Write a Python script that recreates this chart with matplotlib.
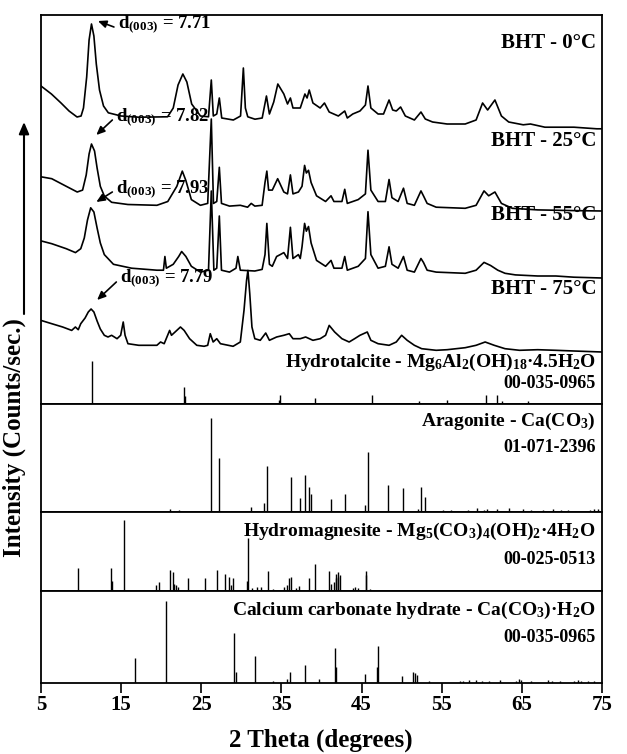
import numpy as np
import matplotlib.pyplot as plt

plt.rcParams['font.family'] = ['Liberation Serif', 'DejaVu Serif']
plt.rcParams['font.weight'] = 'bold'
plt.rcParams['mathtext.fontset'] = 'custom'
plt.rcParams['mathtext.rm'] = 'Liberation Serif:bold'
plt.rcParams['mathtext.it'] = 'Liberation Serif:bold'
plt.rcParams['mathtext.bf'] = 'Liberation Serif:bold'

tt_0 = [5.0, 6.3, 7.5, 8.5, 9.5, 10.0, 10.3, 10.7, 11.0, 11.3, 11.6, 11.9, 12.3, 12.8, 13.4,
        15.0, 17.2, 20.8, 21.5, 22.1, 22.7, 23.2, 23.8, 24.9, 25.9, 26.25, 26.5, 26.93, 27.25,
        27.55, 29.0, 29.9, 30.25, 30.5, 30.8, 31.7, 32.6, 33.13, 33.5, 34.04, 34.55, 35.3, 35.76,
        36.12, 36.44, 37.35, 37.93, 38.2, 38.47, 38.93, 39.83, 40.37, 40.96, 42.1, 42.9, 43.22,
        43.9, 44.8, 45.48, 45.8, 46.16, 47.06, 47.74, 48.43, 48.88, 49.33, 49.87, 50.46, 51.59,
        52.41, 52.95, 53.86, 55.67, 57.93, 59.29, 60.1, 60.73, 61.64, 62.45, 63.36, 65.17, 66.07,
        67.88, 71.5, 74.35, 75.0]
int_0 = [44.0, 36.0, 27.0, 19.0, 13.0, 14.0, 22, 53, 90, 106, 94, 66, 40, 24, 17.2,
         14, 12.8, 13.2, 22, 45, 56, 48, 26, 14, 13.2, 50, 14, 16, 32,
         12, 10, 14, 62, 22, 13.2, 10.8, 12, 34, 16, 28, 46, 36, 26,
         32, 22, 22, 36, 32, 40, 27, 22, 27, 18, 14, 19, 12,
         16, 19, 25, 44, 22, 16, 16, 30, 20, 19, 23, 14, 10,
         18, 11, 8, 6, 6, 10, 27, 20, 30, 14, 8, 5.2, 6,
         2.8, 2.8, 1.2, 1.2]

tt_25 = [5.0, 6.34, 8.15, 9.52, 10.19, 10.64, 11.0, 11.3, 11.68, 12.0, 12.4, 12.9, 13.81, 15.84,
         19.46, 20.82, 21.95, 22.63, 23.08, 23.76, 24.89, 25.8, 26.25, 26.52, 26.93, 27.25, 27.52,
         28.52, 29.87, 30.78, 31.23, 31.68, 32.59, 32.95, 33.18, 33.4, 33.86, 34.53, 35.3, 35.76,
         36.12, 36.44, 37.12, 37.57, 37.89, 38.11, 38.38, 38.7, 39.38, 40.51, 41.19, 41.55, 42.55,
         42.9, 43.22, 44.58, 45.48, 45.8, 46.16, 47.06, 47.97, 48.43, 48.79, 49.56, 50.23, 50.69,
         51.59, 52.41, 52.72, 53.18, 54.31, 57.93, 59.29, 60.28, 60.86, 61.64, 62.45, 63.81, 66.98,
         71.5, 75.0]
int_25 = [34.2, 32.3, 24.7, 19, 20.9, 36, 57, 67, 60, 43, 24.7, 15, 8.7, 6.5,
          5.7, 9.5, 24.7, 39.9, 30.4, 11.4, 5.7, 7.6, 92.0, 7.6, 9.5, 43.7, 7.6,
          4.9, 5.7, 3.8, 7.6, 4.9, 5.7, 28.5, 39.9, 20.9, 20.9, 32.3, 19, 17.1,
          36.1, 17.1, 19, 24.7, 45.6, 38, 40.7, 28.5, 15.2, 9.5, 15.2, 9.5, 9.5,
          21.7, 7.6, 11.4, 17.1, 60.8, 20.9, 9.5, 9.5, 31.5, 13.3, 9.5, 22.8, 7.6,
          5.7, 20.1, 15.2, 7.6, 3.8, 2.7, 5.7, 20.1, 15.2, 19, 7.6, 2.7, 1.1,
          0.4, 0]

tt_55 = [5.0, 6.34, 8.15, 9.3, 9.96, 10.4, 10.8, 11.2, 11.6, 12.0, 12.4, 12.9, 14.04, 16.3, 19.46,
         20.28, 20.46, 20.64, 21.5, 22.18, 22.55, 23.08, 23.76, 24.89, 25.9, 26.25, 26.57, 26.93,
         27.25, 27.52, 28.52, 29.33, 29.56, 29.87, 31.68, 32.59, 32.95, 33.18, 33.5, 33.86, 34.4,
         34.85, 35.3, 35.76, 36.12, 36.44, 37.12, 37.35, 37.57, 37.89, 38.11, 38.38, 38.7, 39.38,
         40.51, 41.19, 41.55, 42.55, 42.9, 43.22, 44.58, 45.48, 45.8, 46.16, 47.06, 47.97, 48.43,
         48.79, 49.56, 50.23, 50.69, 51.59, 52.41, 52.72, 53.18, 54.31, 57.93, 59.29, 60.28, 61.1,
         62.0, 62.9, 64.2, 66.98, 69.24, 71.5, 75.0]
int_55 = [37.1, 34.3, 29.3, 25.4, 29.3, 40, 58, 70.2, 66, 50, 35.1, 23.4, 13.7, 9.8, 7.8,
          7.8, 21.5, 9.8, 13.7, 21.5, 26.5, 21.5, 11.7, 5.9, 7.8, 87.0, 7.8, 9.8,
          62.0, 7.8, 5.9, 9.8, 21.5, 7.8, 7, 8.6, 23.4, 54.6, 13.7, 11.7, 21.5,
          23.4, 25.4, 19.5, 50.7, 19.5, 23.4, 19.5, 31.2, 54.6, 46.8, 51.5, 35.1, 17.6,
          11.7, 17.6, 9.8, 9.8, 21.5, 7.8, 11.7, 19.5, 66.3, 23.4, 9.8, 11.7, 31.2,
          13.7, 9.8, 21.5, 7.8, 5.9, 19.5, 15.6, 7.8, 5.9, 4.7, 7.8, 15.6, 12.5,
          7.8, 4.7, 3.1, 2, 2, 0.8, 0]

tt_75 = [5.0, 6.34, 7.7, 8.83, 9.29, 9.65, 9.96, 10.5, 10.9, 11.25, 11.6, 12.0, 12.4, 12.9,
         13.36, 13.81, 14.49, 14.94, 15.26, 15.49, 15.85, 17.2, 19.46, 19.92, 20.37, 21.05,
         21.28, 21.73, 22.4, 22.86, 23.54, 24.44, 25.35, 25.8, 26.12, 26.48, 26.93, 27.39, 28.97,
         29.87, 30.33, 30.65, 30.82, 31.05, 31.32, 31.68, 32.36, 33.04, 33.5, 34.4, 35.3, 35.98,
         36.44, 37.35, 38.02, 38.93, 39.83, 40.51, 40.96, 41.64, 42.55, 43.45, 44.13, 44.8, 45.71,
         46.16, 47.06, 48.43, 49.33, 50.0, 50.69, 51.59, 52.5, 54.31, 55.67, 57.93, 59.29, 60.42,
         61.55, 62.9, 64.71, 66.98, 69.24, 71.5, 75.0]
int_75 = [31.6, 28.3, 25, 21.6, 25, 22.3, 28.3, 34, 40, 43, 40, 31, 23, 16.7,
          15, 16.7, 13.3, 16.7, 30, 16.7, 8.3, 6.7, 6.7, 10, 8.3, 21.6,
          16.7, 20, 25, 21.6, 13.3, 6.7, 5.7, 6.7, 18.3, 10, 13.3, 8.3, 5.7,
          10, 41.6, 71.6, 81.6, 58.3, 25, 13.3, 11.7, 19, 11.7, 15, 16.7, 18.3,
          13.3, 13.3, 15, 11.7, 13.3, 16.7, 26.6, 20, 13.3, 10, 13.3, 16.7, 20,
          11.7, 8.3, 6.7, 10, 16.7, 11.7, 6.7, 3.3, 1.7, 2.3, 4.3, 6.7, 10,
          6.7, 3.3, 1.7, 2.3, 1.7, 1, 0]

samples = ['BHT - 0°C', 'BHT - 25°C', 'BHT - 55°C', 'BHT - 75°C']
d_labels = ['7.71', '7.82', '7.93', '7.79']

# --- reference cards (2 theta, relative intensity) ---
ht_tt = [11.35, 22.85, 22.95, 34.75, 34.85, 39.25, 46.35, 52.2, 55.6, 60.55, 61.9, 62.55, 65.75]
ht_int = [100, 40, 18, 10, 22, 15, 21, 8, 9, 21, 21, 6, 8]

ar_tt = [21.05, 22.2, 26.17, 27.2, 31.15, 32.8, 33.15, 36.15, 37.3, 37.92, 38.4, 38.65, 41.15,
         42.87, 45.45, 45.8, 48.35, 50.2, 52.1, 52.45, 52.95, 55.1, 56.2, 58.3, 59.35, 60.3,
         60.7, 61.9, 63.4, 65.1, 66.2, 67.6, 68.9, 69.9, 70.8, 73.5, 74.0, 74.5]
ar_int = [3, 2, 100, 57, 5, 10, 49, 37, 15, 39, 27, 19, 14, 19, 7, 64, 29, 26, 3, 27, 16, 2, 2,
          2, 4, 2, 3, 3, 4, 3, 2, 2, 3, 2, 2, 2, 3, 3]

hm_tt = [9.65, 13.72, 13.81, 15.3, 19.37, 19.7, 21.13, 21.41, 21.65, 21.85, 22.1, 23.31, 25.48,
         26.93, 27.93, 28.52, 28.77, 28.97, 30.69, 30.78, 31.3, 31.95, 32.4, 33.36, 33.95, 35.3,
         35.7, 35.9, 36.21, 36.8, 37.25, 38.38, 39.24, 40.96, 41.2, 41.5, 41.75, 41.87, 42.0,
         42.1, 42.3, 43.9, 44.2, 44.6, 45.5, 45.6, 46.05]
hm_int = [33, 33, 14, 100, 8, 12, 30, 26, 10, 9, 6, 18, 18, 30, 24, 20, 8, 18, 14, 75, 4, 6, 5,
          28, 3, 5, 8, 18, 20, 4, 7, 18, 38, 28, 10, 12, 18, 24, 20, 27, 22, 4, 5, 4, 28, 22, 3]

cc_tt = [16.75, 20.56, 29.06, 29.28, 31.68, 33.94, 35.66, 36.07, 37.93, 39.69, 41.68, 41.86,
         45.44, 46.89, 47.07, 50.1, 51.41, 51.68, 51.95, 53.4, 57.25, 57.7, 58.4, 59.3, 60.0,
         60.9, 62.3, 64.3, 64.7, 64.95, 66.1, 68.3, 68.8, 69.7, 71.5, 72.0, 72.4, 73.3, 74.0]
cc_int = [30, 100, 61, 14, 33, 2, 5, 14, 22, 5, 43, 19, 11, 20, 45, 9, 14, 12, 10, 2, 2, 3, 4,
          4, 3, 3, 4, 3, 5, 4, 2, 4, 3, 2, 3, 4, 3, 2, 2]

cards = [
    ('Hydrotalcite - Mg$_6$Al$_2$(OH)$_{18}$·4.5H$_2$O', '00-035-0965'),
    ('Aragonite - Ca(CO$_3$)', '01-071-2396'),
    ('Hydromagnesite - Mg$_5$(CO$_3$)$_4$(OH)$_2$·4H$_2$O', '00-025-0513'),
    ('Calcium carbonate hydrate - Ca(CO$_3$)·H$_2$O', '00-035-0965'),
]

W, H = 627, 754
fig = plt.figure(figsize=(W / 100, H / 100), dpi=100)


def box(top, bottom):
    return [41 / W, 1 - bottom / H, 561 / W, (bottom - top) / H]


ax0 = fig.add_axes(box(15, 404))
ax1 = fig.add_axes(box(404, 512))
ax2 = fig.add_axes(box(512, 591))
ax3 = fig.add_axes(box(591, 683))
axes = [ax0, ax1, ax2, ax3]

for ax in axes:
    ax.set_xlim(5, 75)
    for s in ax.spines.values():
        s.set_linewidth(1.3)
    ax.set_yticks([])
    ax.tick_params(axis='x', bottom=False, labelbottom=False)

# top panel, y in screen-like units above the hydrotalcite baseline
ax0.set_ylim(0, 389)
offsets = [274, 193, 126, 52]
patterns = [(tt_0, int_0), (tt_25, int_25), (tt_55, int_55), (tt_75, int_75)]
for (tt, ii), off in zip(patterns, offsets):
    ax0.plot(tt, np.array(ii) + off, color='k', lw=1.2)

label_y = [361, 263, 189, 115]
for name, y in zip(samples, label_y):
    ax0.text(74.3, y, name, ha='right', va='center', fontsize=15)

# d(003) annotations: label position and arrow (tail -> head)
d_pos = [(14.6, 380), (14.4, 287), (14.3, 215), (14.9, 126)]
d_arrow = [((14.1, 377), (12.1, 383)), ((13.9, 284), (11.9, 269)),
           ((13.9, 212), (11.9, 202)), ((14.4, 122), (12.0, 104))]
for lab, (x, y), (tail, head) in zip(d_labels, d_pos, d_arrow):
    ax0.text(x, y, 'd$_{(003)}$ = ' + lab, ha='left', va='center', fontsize=13.5)
    ax0.annotate('', xy=head, xytext=tail, annotation_clip=False,
                 arrowprops=dict(arrowstyle='-|>,head_length=0.5,head_width=0.22',
                                 color='k', lw=1.2, shrinkA=0, shrinkB=0))

ax0.vlines(ht_tt, 0, np.array(ht_int) * 0.43, color='k', lw=1.0)
ax0.text(0.989, 42 / 389, cards[0][0], transform=ax0.transAxes, ha='right', va='center',
         fontsize=14)
ax0.text(0.989, 21 / 389, cards[0][1], transform=ax0.transAxes, ha='right', va='center',
         fontsize=13)

sticks = [(ax1, ar_tt, ar_int, 115, 0.843, 0.593),
          (ax2, hm_tt, hm_int, 111, 0.76, 0.405),
          (ax3, cc_tt, cc_int, 112, 0.79, 0.50)]
for (ax, tt, ii, top, ty, cy), (name, code) in zip(sticks, cards[1:]):
    ax.set_ylim(0, top)
    ax.vlines(tt, 0, ii, color='k', lw=1.0)
    ax.text(0.989, ty, name, transform=ax.transAxes, ha='right', va='center', fontsize=14)
    ax.text(0.989, cy, code, transform=ax.transAxes, ha='right', va='center', fontsize=13)

ax3.set_xticks(np.arange(5, 76, 10))
ax3.tick_params(axis='x', bottom=True, labelbottom=True, direction='out', length=7,
                width=1.2, pad=2, labelsize=15)

fig.text(321 / W, 1 - 740 / H, '2 Theta (degrees)', ha='center', va='center', fontsize=18)
fig.text(14 / W, 1 - 438 / H, 'Intensity (Counts/sec.)', rotation=90, ha='center',
         va='center', fontsize=18)
ax0.annotate('', xy=(24 / W, 1 - 122 / H), xytext=(24 / W, 1 - 314 / H),
             xycoords='figure fraction', textcoords='figure fraction',
             arrowprops=dict(arrowstyle='-|>,head_length=0.7,head_width=0.3', color='k',
                             lw=1.5, shrinkA=0, shrinkB=0))

fig.savefig('out.png', dpi=100)
